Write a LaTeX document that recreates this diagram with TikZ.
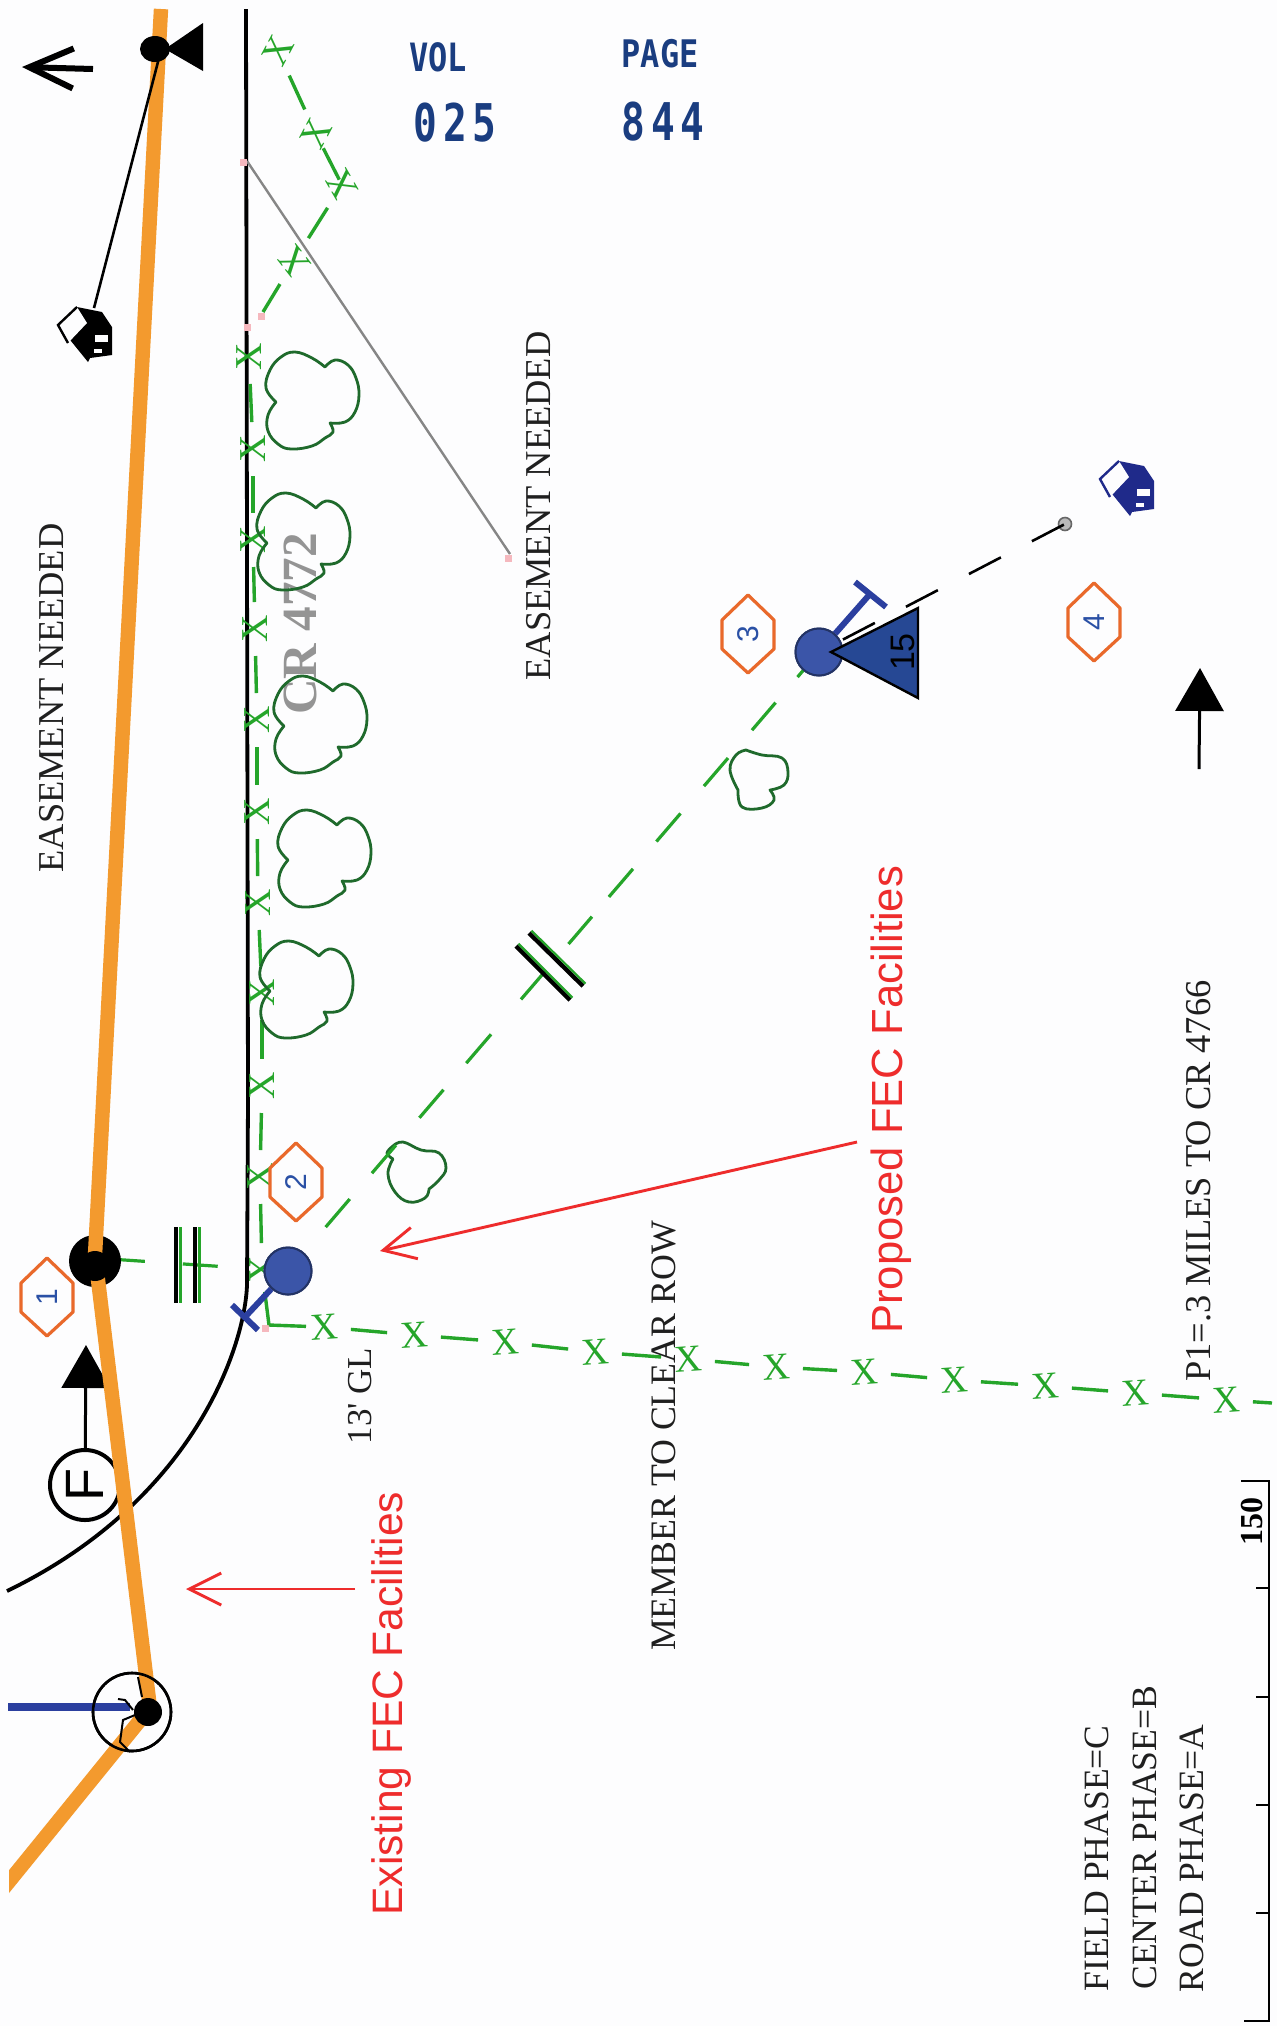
\documentclass[tikz,border=0pt]{standalone}
\usepackage{fontspec}
\setmainfont{Liberation Serif}
\setsansfont{Liberation Sans}
\newfontfamily\stampfont{DejaVu Sans Mono}
\usetikzlibrary{arrows.meta}
\definecolor{bgc}{HTML}{FDFDFE}
\definecolor{orangeln}{HTML}{F39A2E}
\definecolor{fenceg}{HTML}{25A52A}
\definecolor{treeg}{HTML}{1F6A2C}
\definecolor{hexo}{HTML}{E9692B}
\definecolor{polebl}{HTML}{3B55A8}
\definecolor{guybl}{HTML}{2B3F9F}
\definecolor{numbl}{HTML}{2A50A5}
\definecolor{stampbl}{HTML}{1A3D80}
\definecolor{redtx}{HTML}{EE2C2C}
\definecolor{pinkm}{HTML}{F5B8BE}
\definecolor{navyh}{HTML}{1F2A8A}
\tikzset{
  serifnote/.style={rotate=90,inner sep=0pt,text=black!88,font=\fontsize{18.2}{20}\selectfont},
  rednote/.style={rotate=90,inner sep=0pt,text=redtx,anchor=base west,font=\sffamily\fontsize{#1}{24}\selectfont},
  stamp/.style={inner sep=0pt,text=stampbl,font=\stampfont\bfseries\fontsize{#1}{24}\selectfont},
  fencex/.style={inner sep=0pt,text=fenceg,font=\fontsize{19}{20}\selectfont},
  fenceline/.style={draw=fenceg,line width=1.7pt,shorten <=13.5pt,shorten >=13.5pt},
  wiregreen/.style={draw=fenceg,line width=1.6pt},
  treeline/.style={draw=treeg,line width=1.4pt,line join=round},
  pinkmark/.style={fill=pinkm,inner sep=0pt,minimum size=3.5pt},
  polenode/.style={circle,fill=polebl,draw=polebl!60!black,line width=1pt,inner sep=0pt,minimum size=23.5pt},
  guy/.style={draw=guybl,line width=3pt},
  orangewire/.style={draw=orangeln,line width=7.2pt,line join=round},
  redarrow/.style={draw=redtx,line width=1.45pt,-{Straight Barb[length=16pt,width=16pt,line width=1.45pt]}},
  blackarrow/.style={draw=black,line width=1.5pt,-{Triangle[length=21.5pt,width=24pt]}},
  hexline/.style={draw=hexo,fill=bgc,line width=1.6pt,line join=round},
  hexnum/.style={rotate=90,inner sep=0pt,text=numbl,font=\sffamily\fontsize{15}{16}\selectfont},
  doublebar/.style={draw=black,line width=2.2pt},
  doublebarg/.style={draw=fenceg,line width=1.6pt},
  tall/.pic={\draw[treeline] plot[smooth,tension=.7] coordinates {(13,-34)(23,-41)(36,-36)(44,-23)(47,-6)(43,11)(33,21)(18,22)} -- plot[smooth,tension=.7] coordinates {(18,22)(21,31)(13,37)(0,45)(-21,48)(-34,43)(-44,30)(-44,14)(-36,1)} -- plot[smooth,tension=.7] coordinates {(-36,1)(-46,-13)(-42,-31)(-31,-44)(-17,-49)(0,-43)(13,-34)} -- cycle;},
  smalla/.pic={\draw[treeline] plot[smooth,tension=.7] coordinates {(-22,-26)(-12,-30)(6,-22)(24,-19)(31,-4)(24,8)(14,17)} -- plot[smooth,tension=.7] coordinates {(14,17)(10,26)(-6,30)(-20,20)(-27,2)(-22,-13)} -- plot[smooth,tension=.7] coordinates {(-22,-13)(-28,-19)(-22,-26)} -- cycle;},
  smallb/.pic={\draw[treeline] plot[smooth,tension=.7] coordinates {(-14,-30)(2,-25)(22,-22)(28,-8)(24,5)(10,10)} -- plot[smooth,tension=.7] coordinates {(10,10)(14,20)(2,28)(-18,27)(-22,10)} -- plot[smooth,tension=.7] coordinates {(-22,10)(-30,-10)(-24,-25)(-14,-30)} -- cycle;},
  houseglyph/.pic={
    \fill[#1] (-8,-28) -- (17,-23) -- (27,-8) -- (27,20) -- (5,23) -- (3,27) -- (-27,-10) -- cycle;
    \fill[bgc] (-27,-10) -- (-8,-28) -- (2,-12) -- (-17,8) -- cycle;
    \draw[#1,line width=1.2pt] (-17,8) -- (-27,-10) -- (-8,-28);
    \fill[bgc] (10,0) rectangle (23,7);
    \fill[bgc] (9,14) rectangle (17,18);
  },
  hexmark/.pic={
    \path[hexline] (0,-39) -- (26,-14) -- (26,15) -- (0,39) -- (-26,15) -- (-26,-14) -- cycle;
    \node[hexnum] (-label) at (0,0) {#1};
  }
}
\begin{document}
\begin{tikzpicture}[x=0.5pt,y=-0.5pt]
\useasboundingbox (0,0) rectangle (1277,2026);
\fill[bgc] (0,0) rectangle (1277,2026);

% key positions
\coordinate (topwire) at (161,9);
\coordinate (bend1) at (95,1255);
\coordinate (bend2) at (150,1708);
\coordinate (wireend) at (-10,1905);
\coordinate (roadtop) at (246,9);
\coordinate (greyA) at (247,161);
\coordinate (greyB) at (510,554);
\coordinate (tophouse) at (94,308);
\coordinate (bluehouse) at (1127,489);

% road
\draw[black,line width=1.9pt] (roadtop) -- (248,1100) -- (247,1285)
  .. controls (245,1345) and (195,1500) .. (7,1591);

% grey easement line
\draw[gray!95,line width=1.2pt] (greyA) -- (greyB);
\node[pinkmark] (pk1) at (243,162) {};
\node[pinkmark] (pk2) at (508,558) {};
\node[pinkmark] (pk3) at (261,316) {};
\node[pinkmark] (pk4) at (247,327) {};
\node[pinkmark] (pk5) at (265,1328) {};

% CR label (under the trees)
\node[rotate=90,inner sep=0pt,text=black!42,font=\bfseries\fontsize{24.6}{26}\selectfont] (crlabel) at (300,624) {CR 4772};

% fence, top part
\foreach \n/\x/\y/\r in {1/278/51/62,2/316/134/62,3/342/185/120,4/294/261/128}
  \node[fencex,rotate=\r] (a\n) at (\x,\y) {X};
\coordinate (f0) at (263,312);
\draw[fenceline] (a1.center) -- (a2.center);
\draw[fenceline,shorten <=8pt,shorten >=3pt] (a2.center) -- (a3.center);
\draw[fenceline] (a3.center) -- (a4.center);
\draw[fenceline,shorten >=0pt] (a4.center) -- (f0);

% fence along the road
\foreach \n/\x/\y in {1/249/357,2/253/449,3/253/540,4/255/629,5/257/720,6/257/812,7/258/903,8/262/993,9/262/1086,10/260/1177,11/262/1270}
  \node[fencex,rotate=90] (v\n) at (\x,\y) {X};
\foreach \a/\b in {1/2,2/3,3/4,4/5,5/6,6/7,7/8,8/9,9/10,10/11}
  \draw[fenceline] (v\a.center) -- (v\b.center);
\coordinate (fc) at (269,1325);

% fence, long run
\foreach \n/\x/\y in {1/324/1327,2/414/1335,3/505/1342,4/595/1352,5/688/1359,6/776/1367,7/864/1372,8/954/1380,9/1045/1386,10/1135/1393,11/1226/1400}
  \node[fencex,rotate=4] (l\n) at (\x,\y) {X};
\foreach \a/\b in {1/2,2/3,3/4,4/5,5/6,6/7,7/8,8/9,9/10,10/11}
  \draw[fenceline] (l\a.center) -- (l\b.center);
\coordinate (fe) at (1272,1403);
\draw[fenceline,shorten >=0pt] (l11.center) -- (fe);
\draw[fenceline,shorten >=0pt,shorten <=11pt] (v11.center) -- (fc);
\draw[fenceline,shorten <=0pt,shorten >=9pt] (fc) -- (l1.center);

% trees
\pic at (312,401) {tall};
\pic at (303,542) {tall};
\pic at (320,725) {tall};
\pic at (324,859) {tall};
\pic at (306,990) {tall};
\pic at (415,1172) {smalla};
\pic at (760,780) {smallb};

% poles
\node[polenode] (p2) at (288,1271) {};
\node[polenode] (p3) at (819,652) {};
\coordinate (p1) at (95,1258);

% green wires
\draw[wiregreen,dash pattern=on 25pt off 19pt on 17.5pt off 100pt] (p1) -- (p2.center);
\draw[wiregreen,dash pattern=on 16.5pt off 16.85pt on 18.15pt off 18.35pt on 18.5pt off 18pt on 18.5pt off 18pt on 18.5pt off 13pt on 18pt off 17.5pt on 19pt off 23pt on 19pt off 17.5pt on 18.5pt off 18pt on 18.5pt off 17pt on 18.5pt off 60pt] (p3.center) -- (p2.center);

% conductor bars
\coordinate (b1t) at (176,1227); \coordinate (b1b) at (176,1303);
\coordinate (b2t) at (195,1227); \coordinate (b2b) at (195,1303);
\draw[doublebar] (b1t) -- (b1b);
\draw[doublebar] (b2t) -- (b2b);
\draw[doublebarg] ([xshift=2.3pt]b1t) -- ([xshift=2.3pt]b1b);
\draw[doublebarg] ([xshift=2.3pt]b2t) -- ([xshift=2.3pt]b2b);
\coordinate (d1a) at (516,946); \coordinate (d1b) at (570,1000);
\coordinate (d2a) at (529,933); \coordinate (d2b) at (583,986);
\draw[doublebar] (d1a) -- (d1b);
\draw[doublebar] (d2a) -- (d2b);
\draw[doublebarg,line width=1.1pt] ([shift={(1.2pt,1.2pt)}]d1a) -- ([shift={(1.2pt,1.2pt)}]d1b);
\draw[doublebarg,line width=1.1pt] ([shift={(1.2pt,1.2pt)}]d2a) -- ([shift={(1.2pt,1.2pt)}]d2b);

% guy marks
\coordinate (g2) at (245,1317);
\coordinate (g2a) at (232,1305); \coordinate (g2b) at (258,1330);
\draw[guy] (p2) -- (g2);
\draw[guy] (g2a) -- (g2b);
\coordinate (g3) at (870,594);
\coordinate (g3a) at (855,582); \coordinate (g3b) at (886,607);
\draw[guy] (p3) -- (g3);
\draw[guy] (g3a) -- (g3b);
\node[polenode] (p2top) at (288,1271) {};
\node[polenode] (p3top) at (819,652) {};

% service to the blue house
\node[circle,fill=gray!55,draw=gray!80!black,line width=.8pt,inner sep=0pt,minimum size=6.5pt] (svc) at (1065,524) {};
\draw[black,line width=1.3pt,dash pattern=on 18pt off 17.5pt,dash phase=22pt] (p3top.center) -- (svc.center);
\pic at (bluehouse) {houseglyph=navyh};

% transformer
\fill[numbl!90!black,draw=black,line width=1.2pt,line join=miter] (831,652) -- (918,608) -- (918,698) -- cycle;
\node[rotate=90,inner sep=0pt,text=black,font=\sffamily\fontsize{17}{18}\selectfont] (kva) at (903,652) {15};

% F symbol (under the orange line)
\node[circle,draw=black,line width=2pt,rotate=90,inner sep=0pt,minimum size=35pt,text=black,font=\sffamily\fontsize{27}{28}\selectfont] (fsym) at (85,1485) {F};
\coordinate (ftip) at (86,1345);
\draw[blackarrow] (fsym) -- (ftip);

% existing line
\fill[black] (95,1261) circle[radius=26];
\node[circle,draw=black,line width=1.3pt,inner sep=0pt,minimum size=39pt] (bigring) at (132,1712) {};
\begin{scope}
\clip (9,0) rectangle (1277,2026);
\draw[orangewire] (topwire) -- (bend1) -- (bend2) -- (wireend);
\end{scope}
\fill[black] (95,1266) circle[radius=15];
% ring detail
\coordinate (bl0) at (8,1707);
\coordinate (bl1) at (130,1707);
\draw[guybl,line width=4.4pt] (bl0) -- (bl1);
\draw[black,line width=1pt] (135,1715) -- (123,1720) -- (120,1742) -- (130,1752);
\draw[black,line width=1pt] (118,1699) -- (125,1700) -- (133,1710);
\draw[black,line width=1pt] (138,1677) -- (142,1697);
\node[circle,fill=black,inner sep=0pt,minimum size=14pt] (dotb) at (148,1712) {};
\node[circle,draw=black,line width=1.3pt,inner sep=0pt,minimum size=39pt] (bigringtop) at (132,1712) {};

% top pole
\fill[black] (155,49) ellipse[x radius=15,y radius=13];
\fill[black] (165,49) -- (203,23) -- (203,71) -- cycle;
\draw[black,line width=1.3pt] (159,58) -- (tophouse);
\pic at (85,335) {houseglyph=black};

% north arrow
\coordinate (na) at (93,69); \coordinate (nt) at (22,67);
\draw[black,line width=3pt,-{Straight Barb[length=22pt,width=20pt,line width=3pt]}] (na) -- (nt);

% east arrow
\coordinate (ea) at (1199,769); \coordinate (et) at (1200,668);
\draw[blackarrow] (ea) -- (et);

% hexagon labels
\pic (h1) at (47,1297) {hexmark=1};
\pic (h2) at (296,1182) {hexmark=2};
\pic (h3) at (748,634) {hexmark=3};
\pic (h4) at (1094,622) {hexmark=4};

% stamp
\node[stamp=19.5,xscale=.82] (vol) at (438,57.5) {VOL};
\node[stamp=19,xscale=.84] (page) at (660,53.5) {PAGE};
\node[stamp=26,xscale=.76] (volno) at (455,122.5) {\addfontfeature{LetterSpace=14}025};
\node[stamp=26,xscale=.76] (pageno) at (663,121.5) {\addfontfeature{LetterSpace=14}844};

% notes
\node[serifnote] (n1) at (52,698) {EASEMENT NEEDED};
\node[serifnote] (n2) at (539,506) {EASEMENT NEEDED};
\node[serifnote,font=\fontsize{17.5}{19}\selectfont] (n3) at (360,1396) {13\textquotesingle{} GL};
\node[serifnote,font=\fontsize{17.9}{19}\selectfont] (n4) at (664,1436) {MEMBER TO CLEAR ROW};
\node[serifnote] (n5) at (1199,1181) {P1=.3 MILES TO CR 4766};
\node[serifnote,anchor=west,font=\fontsize{17.8}{19}\selectfont] (n6) at (1097,1992) {FIELD PHASE=C};
\node[serifnote,anchor=west,font=\fontsize{17.8}{19}\selectfont] (n7) at (1145,1990) {CENTER PHASE=B};
\node[serifnote,anchor=west,font=\fontsize{17.8}{19}\selectfont] (n8) at (1192,1993) {ROAD PHASE=A};

% red call-outs
\node[rednote=21.3] (existing) at (402,1916) {Existing FEC Facilities};
\node[rednote=21.8] (proposed) at (902,1334) {Proposed FEC Facilities};
\coordinate (r1a) at (355,1589); \coordinate (r1t) at (186,1589);
\coordinate (r2a) at (857,1142); \coordinate (r2t) at (380,1251);
\draw[redarrow] (r1a) -- (r1t);
\draw[redarrow] (r2a) -- (r2t);

% scale bar
\draw[black,line width=1.4pt] (1241,1481) -- (1269,1481) -- (1269,2021) -- (1244,2021);
\foreach \y in {1588,1697,1805,1913}
  \draw[black,line width=1.4pt] (1256,\y) -- (1269,\y);
\node[rotate=90,inner sep=0pt,text=black,font=\bfseries\fontsize{16}{17}\selectfont] (scalelab) at (1252,1521) {150};
\end{tikzpicture}
\end{document}
